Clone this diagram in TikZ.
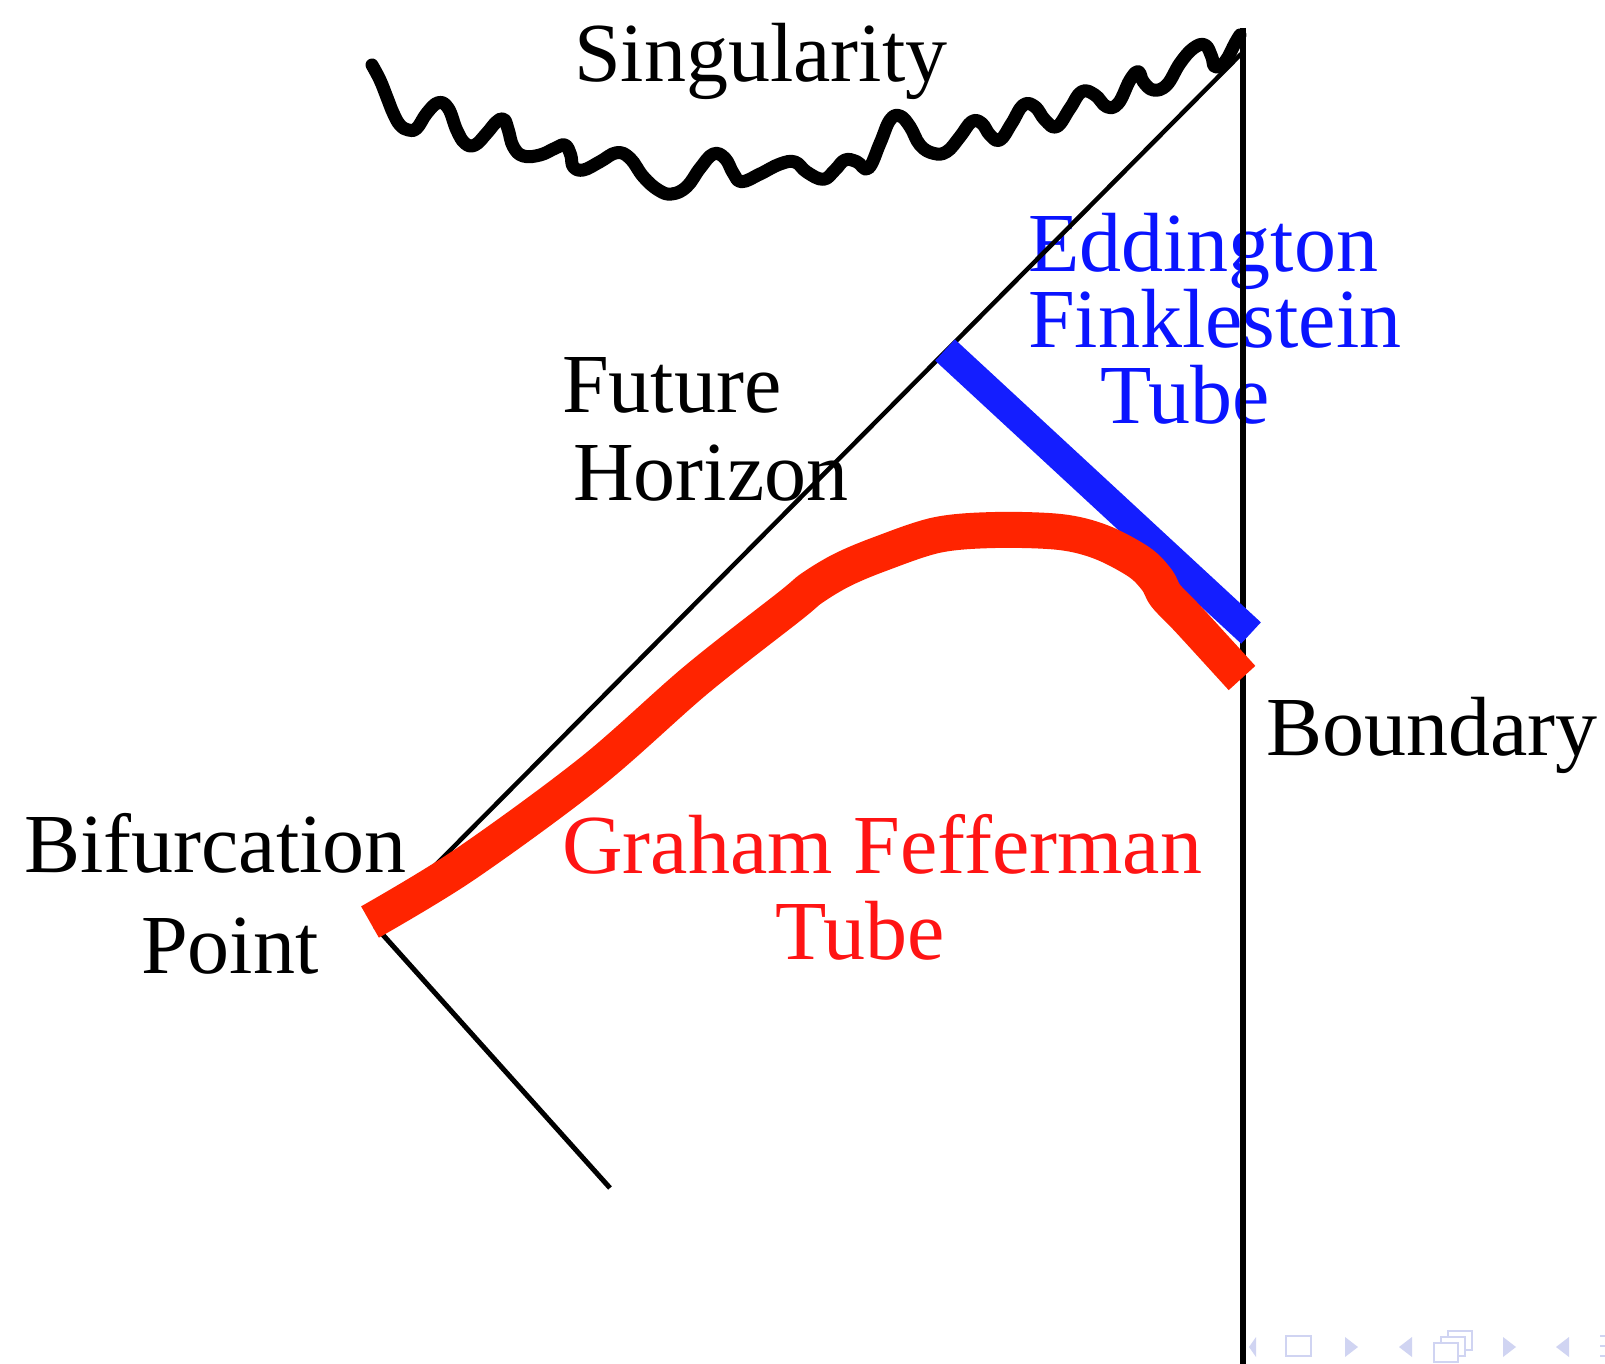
\documentclass[tikz,border=0pt]{standalone}
\usepackage{fontspec}
\setmainfont{Liberation Serif}
\definecolor{tubered}{RGB}{255,36,0}
\definecolor{tubeblue}{RGB}{20,30,255}
\definecolor{textred}{RGB}{255,20,20}
\definecolor{textblue}{RGB}{10,20,255}
\definecolor{navc}{RGB}{208,212,242}
\begin{document}
\begin{tikzpicture}[x=1pt,y=-1pt,
  lbl/.style={font=\fontsize{84}{84}\selectfont, inner sep=0pt, anchor=base west},
  thinline/.style={line width=4.5pt, black},
  tube/.style={line width=#1, line cap=butt},
  squiggle/.style={line width=13pt, line cap=round, line join=round},
  navsym/.style={navc},
  navbox/.style={draw=navc, line width=2.2pt}]
\useasboundingbox (0,0) rectangle (1605,1364);
\fill[white] (0,0) rectangle (1605,1364);

% labels
\node[lbl] (sing) at (574,82) {Singularity};
\node[lbl] (fut) at (562,412) {Future};
\node[lbl] (hor) at (573,500) {Horizon};
\node[lbl,textblue] (edd) at (1028,272) {Eddington};
\node[lbl,textblue] (fink) at (1028,347) {Finklestein};
\node[lbl,textblue] (tubeb) at (1100,423) {Tube};
\node[lbl] (bound) at (1266,755) {Boundary};
\node[lbl] (bif) at (24,872) {Bifurcation};
\node[lbl] (pt) at (141,973) {Point};
\node[lbl,textred] (gf) at (562,873) {Graham Fefferman};
\node[lbl,textred] (tuber) at (775,959) {Tube};

% key points
\coordinate (T) at (1241,54);
\coordinate (B) at (375,926);
\coordinate (L) at (610,1188);
\coordinate (Vtop) at (1243,28);
\coordinate (Vbot) at (1243,1364);
\coordinate (E1) at (945,350);
\coordinate (E2) at (1251,633);

% boundary and horizons
\draw[line width=6pt] (Vtop) -- (Vbot);
\draw[thinline] (B) -- (T);
\draw[thinline, line width=5pt] (B) -- (L);

% singularity
\draw[squiggle] plot[smooth, tension=0.7] coordinates {
 (372,65) (380,80) (386.7,96.7) (393.3,113.3) (400,125) (408.3,130) (416.7,128.3)
 (426.7,113.3) (438.3,102.7) (448.3,108.3) (456.7,130) (465,143.3) (475,145)
 (486.7,133.3) (496.7,121.7) (504,119.3) (508.3,130) (513.3,146.7) (523.3,156)
 (540,155) (555,148.3) (565,145) (570.7,155) (573.3,166.7) (583.3,170)
 (600,161.7) (616.7,152.7) (630,158.3) (643.3,176.7) (658.3,190) (671.7,194)
 (686.7,186.7) (700,168.3) (713.3,154) (725,158.3) (733.3,173.3) (741.7,181.7)
 (760,174) (780,164) (795,162) (806.7,172) (823.3,179.3) (835,170) (845,160)
 (856.7,161.7) (868.3,168.3) (880,143.3) (890,120) (900,116) (910,126.7)
 (920,145) (933.3,153.3) (946.7,151.7) (960,136.7) (971.7,121.7) (981.7,123.3)
 (990,135) (1000,140) (1011.7,123.3) (1023.3,105) (1035,106.7) (1045,120)
 (1056.7,126.7) (1070,108.3) (1081.7,91.7) (1095,95) (1106.7,106.7)
 (1118.3,103.3) (1130,80) (1138.3,71.7) (1143.3,81.7) (1153.3,90) (1166.7,85)
 (1180,63.3) (1193.3,48.3) (1205,45) (1211.7,56.7) (1215,66.7) (1225,61.7)
 (1235,43.3) (1240,35)};

% Eddington Finklestein tube
\draw[tubeblue, tube=29pt] (E1) -- (E2);

% Graham Fefferman tube
\draw[tubered, tube=36pt, line join=round]
  plot[smooth, tension=0.55] coordinates {(370,922) (464,865) (591,772) (696,680)
  (790,606) (812,588) (842,570) (880,554) (937,535) (995,530) (1060,532)
  (1101,542) (1139,562) (1157,580) (1166,596) (1189,620) (1242,678)};

% navigation symbols
\fill[navsym] (1256,1337) -- (1249,1347) -- (1256,1357) -- cycle;
\draw[navbox] (1286,1336) rectangle (1311,1356);
\fill[navsym] (1345,1337) -- (1358,1347) -- (1345,1357) -- cycle;
\fill[navsym] (1412,1337) -- (1399,1347) -- (1412,1357) -- cycle;
\draw[navbox, fill=white] (1448,1331) rectangle (1472,1350);
\draw[navbox, fill=white] (1441,1337) rectangle (1465,1356);
\draw[navbox, fill=white] (1434,1343) rectangle (1458,1362);
\fill[navsym] (1503,1337) -- (1516,1347) -- (1503,1357) -- cycle;
\fill[navsym] (1569,1337) -- (1556,1347) -- (1569,1357) -- cycle;
\draw[navbox] (1600,1336) -- (1605,1336) (1600,1346) -- (1605,1346) (1600,1356) -- (1605,1356);
\end{tikzpicture}
\end{document}
